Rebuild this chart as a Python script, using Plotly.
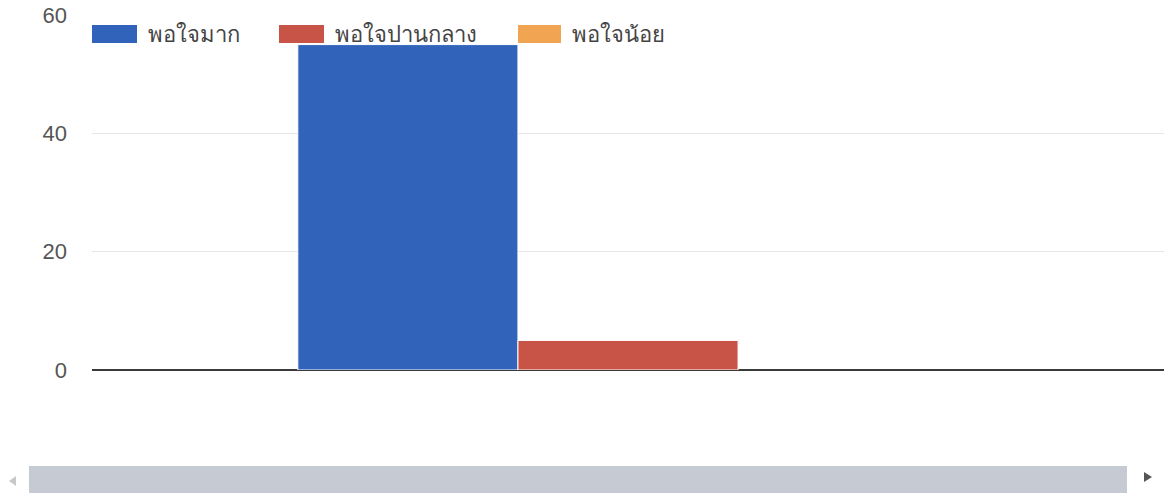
import plotly.graph_objects as go

# Survey satisfaction counts (single question)
category = ["ความพึงพอใจ"]
series_names = ["พอใจมาก", "พอใจปานกลาง", "พอใจน้อย"]
series_values = [[55], [5], [0]]
series_colors = ["#3263bb", "#c75447", "#f1a452"]
y_ticks = [0, 20, 40, 60]

W, H = 1164, 496
L, R, T, B = 92, 0, 15, 126
plot_w = W - L - R
plot_h = H - T - B


def px_x(p):
    return (p - L) / plot_w


def px_y(p):
    return (H - B - p) / plot_h


fig = go.Figure()
for name, vals, col in zip(series_names, series_values, series_colors):
    fig.add_trace(go.Bar(
        x=category, y=vals, name=name,
        marker=dict(color=col,
                    line=dict(color="white", width=[1 if v > 0 else 0 for v in vals])),
        showlegend=False,
    ))

shapes = []
annotations = []

# Legend row drawn across the top of the plot
legend_boxes = [(92, 137), (279, 324), (518, 561)]
for (x0, x1), name, col in zip(legend_boxes, series_names, series_colors):
    shapes.append(dict(type="rect", xref="paper", yref="paper",
                       x0=px_x(x0), x1=px_x(x1), y0=px_y(43), y1=px_y(25),
                       fillcolor=col, line=dict(width=0), layer="above"))
    annotations.append(dict(xref="paper", yref="paper", x=px_x(x1 + 9), y=px_y(34),
                            text=name, showarrow=False, xanchor="left", yanchor="middle",
                            font=dict(size=22, color="#444444")))

# Horizontal scrollbar beneath the chart
shapes.append(dict(type="rect", xref="paper", yref="paper",
                   x0=px_x(29), x1=px_x(1127), y0=px_y(493), y1=px_y(466),
                   fillcolor="#c6cad2", line=dict(width=0)))
shapes.append(dict(type="path", xref="paper", yref="paper",
                   path=f"M {px_x(16)} {px_y(476)} L {px_x(9)} {px_y(481)} L {px_x(16)} {px_y(486)} Z",
                   fillcolor="#c8c8c8", line=dict(width=0)))
shapes.append(dict(type="path", xref="paper", yref="paper",
                   path=f"M {px_x(1144)} {px_y(472)} L {px_x(1152)} {px_y(477)} L {px_x(1144)} {px_y(482)} Z",
                   fillcolor="#555555", line=dict(width=0)))

fig.update_layout(
    width=W, height=H,
    margin=dict(l=L, r=R, t=T, b=B),
    paper_bgcolor="white", plot_bgcolor="white",
    barmode="group", bargap=0.384, bargroupgap=0,
    font=dict(family="Liberation Sans, Arial, Noto Sans, sans-serif", color="#444444"),
    shapes=shapes, annotations=annotations,
    xaxis=dict(showticklabels=False, showgrid=False, zeroline=False, showline=False,
               fixedrange=True),
    yaxis=dict(range=[0, 60], tickvals=y_ticks, showgrid=True, gridcolor="#e6e6ea",
               gridwidth=1, zeroline=True, zerolinecolor="#3a3a3a", zerolinewidth=2,
               tickfont=dict(size=22, color="#555555"), ticklabelstandoff=24,
               showline=False, fixedrange=True),
)

fig.write_html("out.html", config={"displayModeBar": False})
